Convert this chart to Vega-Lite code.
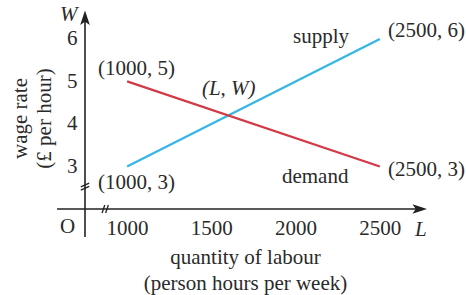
{
  "$schema": "https://vega.github.io/schema/vega-lite/v6.json",
  "width": 342,
  "height": 199,
  "autosize": {"type": "none"},
  "padding": {"left": 85, "top": 10, "right": 39, "bottom": 86},
  "background": "white",
  "config": {
    "view": {"stroke": null},
    "font": "Liberation Serif",
    "text": {"font": "Liberation Serif", "fontSize": 21, "color": "#2a2a2a"}
  },
  "datasets": {
    "lines": [
      {"series": "supply", "L": 1000, "W": 3},
      {"series": "supply", "L": 2500, "W": 6},
      {"series": "demand", "L": 1000, "W": 5},
      {"series": "demand", "L": 2500, "W": 3}
    ],
    "labels": [
      {"text": "(1000, 5)", "L": 827, "W": 5.15},
      {"text": "(1000, 3)", "L": 827, "W": 2.47},
      {"text": "supply", "L": 1985, "W": 5.9},
      {"text": "(2500, 6)", "L": 2549, "W": 6.045},
      {"text": "demand", "L": 1919, "W": 2.61},
      {"text": "(2500, 3)", "L": 2549, "W": 2.776},
      {"text": "O", "L": 602, "W": 1.436}
    ],
    "italics": [
      {"text": "(L, W)", "L": 1444, "W": 4.68},
      {"text": "W", "L": 602, "W": 6.41},
      {"text": "L", "L": 2709, "W": 1.365}
    ],
    "axisLines": [
      {"axis": "x", "L": 584, "L2": 2760, "W": 2, "W2": 2},
      {"axis": "y", "L": 750, "L2": 750, "W": 1.34, "W2": 6.55}
    ],
    "arrowX": [{"L": 2780, "W": 2}],
    "arrowY": [{"L": 750, "W": 6.67}],
    "breakX": [{"L": 870, "W": 2}],
    "breakY": [{"L": 750, "W": 2.52}]
  },
  "layer": [
    {
      "data": {"name": "axisLines"},
      "mark": {"type": "rule", "color": "#222222", "strokeWidth": 1.6},
      "encoding": {
        "x": {"field": "L", "type": "quantitative", "scale": {"domain": [750, 2780], "nice": false, "zero": false},
          "axis": {"values": [1000, 1500, 2000, 2500], "format": "d", "domain": false, "ticks": false, "grid": false,
            "labelFont": "Liberation Serif", "labelFontSize": 21, "labelColor": "#2a2a2a", "labelPadding": 8,
            "title": ["quantity of labour", "(person hours per week)"], "titleFont": "Liberation Serif", "titleFontSize": 21,
            "titleFontWeight": "normal", "titleColor": "#2a2a2a", "titleLineHeight": 26, "titleX": 160, "titleY": 48,
            "titleBaseline": "middle", "titleAnchor": "middle"}},
        "x2": {"field": "L2"},
        "y": {"field": "W", "type": "quantitative", "scale": {"domain": [2, 6.68], "nice": false, "zero": false},
          "axis": {"values": [3, 4, 5, 6], "domain": false, "ticks": false, "grid": false,
            "labelFont": "Liberation Serif", "labelFontSize": 21, "labelColor": "#2a2a2a", "labelPadding": 8,
            "title": ["wage rate", "(£ per hour)"], "titleFont": "Liberation Serif", "titleFontSize": 21,
            "titleFontWeight": "normal", "titleColor": "#2a2a2a", "titleLineHeight": 24, "titleX": -65, "titleY": 108,
            "titleAngle": -90, "titleBaseline": "middle", "titleAnchor": "middle"}},
        "y2": {"field": "W2"}
      }
    },
    {
      "data": {"name": "lines"},
      "mark": {"type": "line", "strokeWidth": 2.3},
      "encoding": {
        "x": {"field": "L", "type": "quantitative"},
        "y": {"field": "W", "type": "quantitative"},
        "color": {"field": "series", "type": "nominal", "scale": {"domain": ["supply", "demand"], "range": ["#35b6e4", "#d23a48"]}, "legend": null}
      }
    },
    {
      "data": {"name": "arrowX"},
      "mark": {"type": "point", "shape": "M0,0L-1.8,-0.6L-1.4,0L-1.8,0.6Z", "filled": true, "color": "#222222", "size": 260, "opacity": 1},
      "encoding": {"x": {"field": "L", "type": "quantitative"}, "y": {"field": "W", "type": "quantitative"}}
    },
    {
      "data": {"name": "arrowY"},
      "mark": {"type": "point", "shape": "M0,0L-0.6,1.8L0,1.4L0.6,1.8Z", "filled": true, "color": "#222222", "size": 260, "opacity": 1},
      "encoding": {"x": {"field": "L", "type": "quantitative"}, "y": {"field": "W", "type": "quantitative"}}
    },
    {
      "data": {"name": "breakX"},
      "mark": {"type": "point", "shape": "M-0.7,0.9L-0.1,-0.9M0.1,0.9L0.7,-0.9", "filled": false, "color": "#222222", "strokeWidth": 1.3, "size": 80, "opacity": 1},
      "encoding": {"x": {"field": "L", "type": "quantitative"}, "y": {"field": "W", "type": "quantitative"}}
    },
    {
      "data": {"name": "breakY"},
      "mark": {"type": "point", "shape": "M-0.8,0L0.8,-0.7M-0.8,0.6L0.8,-0.1", "filled": false, "color": "#222222", "strokeWidth": 1.3, "size": 110, "opacity": 1},
      "encoding": {"x": {"field": "L", "type": "quantitative"}, "y": {"field": "W", "type": "quantitative"}}
    },
    {
      "data": {"name": "labels"},
      "mark": {"type": "text", "align": "left", "baseline": "alphabetic"},
      "encoding": {"x": {"field": "L", "type": "quantitative"}, "y": {"field": "W", "type": "quantitative"}, "text": {"field": "text"}}
    },
    {
      "data": {"name": "italics"},
      "mark": {"type": "text", "align": "left", "baseline": "alphabetic", "fontStyle": "italic"},
      "encoding": {"x": {"field": "L", "type": "quantitative"}, "y": {"field": "W", "type": "quantitative"}, "text": {"field": "text"}}
    }
  ]
}
